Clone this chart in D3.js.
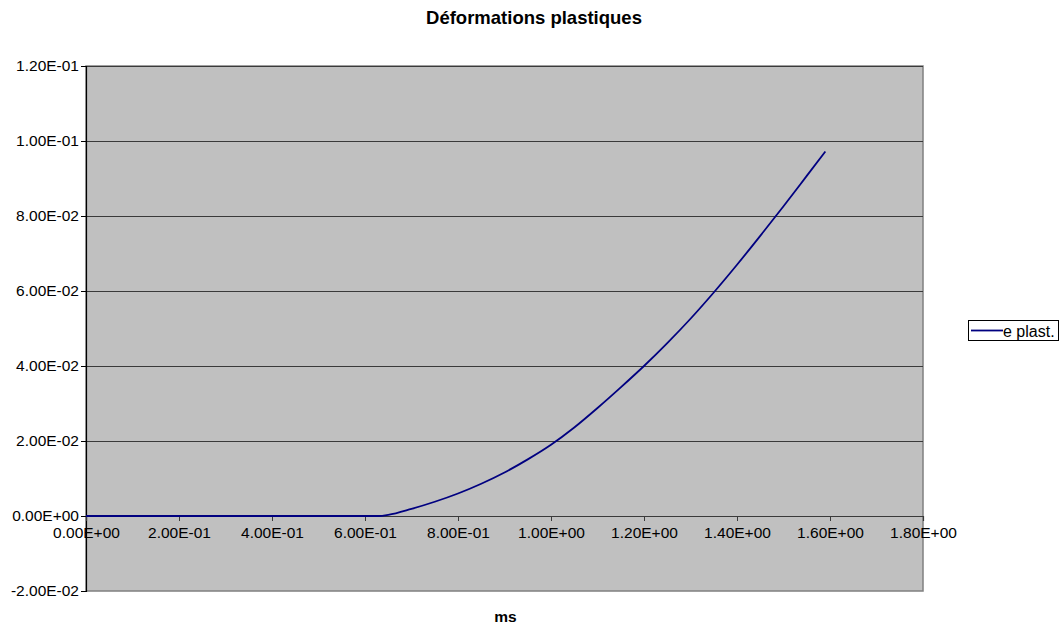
<!DOCTYPE html>
<html>
<head>
<meta charset="utf-8">
<script src="https://cdn.jsdelivr.net/npm/d3@7/dist/d3.min.js"></script>
<style>
  body { margin: 0; background: #fff; }
  svg { display: block; font-family: Arial, "Liberation Sans", sans-serif; }
</style>
</head>
<body>
<svg id="chart" width="1063" height="624"></svg>
<script>
// Time (ms) and plastic strain
const timeMs = [0, 0.1, 0.2, 0.3, 0.4, 0.5, 0.6, 0.63, 0.65, 0.70, 0.75, 0.80, 0.85, 0.90, 0.95,
                1.00, 1.05, 1.10, 1.15, 1.20, 1.25, 1.30, 1.35, 1.40, 1.45, 1.50, 1.55, 1.59];
const ePlast = [0, 0, 0, 0, 0, 0, 0, 0, 0.0003, 0.0019, 0.0038, 0.0060, 0.0086, 0.0116, 0.0151,
                0.0190, 0.0236, 0.0288, 0.0343, 0.0400, 0.0461, 0.0526, 0.0596, 0.0670, 0.0747, 0.0826, 0.0907, 0.0972];

const xTicks = [0, 0.2, 0.4, 0.6, 0.8, 1.0, 1.2, 1.4, 1.6, 1.8];
const yTicks = [-0.02, 0, 0.02, 0.04, 0.06, 0.08, 0.10, 0.12];
const seriesName = "e plast.";
const chartTitle = "Déformations plastiques";
const xTitle = "ms";

// Scientific tick format, e.g. 1.20E-01
function sci(v) {
  if (Math.abs(v) < 1e-12) return "0.00E+00";
  let e = Math.floor(Math.log10(Math.abs(v)) + 1e-9);
  let m = v / Math.pow(10, e);
  const sign = e < 0 ? "-" : "+";
  const ea = Math.abs(e);
  return m.toFixed(2) + "E" + sign + (ea < 10 ? "0" : "") + ea;
}

const svg = d3.select("#chart");
const plotL = 86, plotR = 923, plotT = 66, plotB = 591;
const tickFont = 15.5;

const x = d3.scaleLinear().domain([0, 1.8]).range([plotL, plotR]);
const y = d3.scaleLinear().domain([-0.02, 0.12]).range([plotB, plotT]);

// Plot area
svg.append("rect")
  .attr("x", plotL).attr("y", plotT)
  .attr("width", plotR - plotL).attr("height", plotB - plotT)
  .attr("fill", "#c0c0c0")
  .attr("stroke", "#808080").attr("stroke-width", 1.5);

// Horizontal gridlines
svg.append("g")
  .selectAll("line")
  .data(yTicks.filter(d => d > -0.02 && d !== 0))
  .join("line")
  .attr("x1", plotL).attr("x2", plotR)
  .attr("y1", d => y(d) + 0.5).attr("y2", d => y(d) + 0.5)
  .attr("stroke", "#3a3a3a").attr("stroke-width", 1);

// Y axis
const yAxis = d3.axisLeft(y).tickValues(yTicks).tickFormat(sci).tickSize(5).tickPadding(2);
const gy = svg.append("g").attr("transform", `translate(${plotL},0)`).call(yAxis);
gy.select(".domain").attr("stroke", "#000").attr("stroke-width", 1.2);
gy.selectAll(".tick line").attr("stroke", "#000");
gy.selectAll(".tick text").attr("font-size", tickFont).attr("fill", "#000")
  .attr("font-family", "Arial, 'Liberation Sans', sans-serif");

// X axis at y = 0
const xAxis = d3.axisBottom(x).tickValues(xTicks).tickFormat(sci).tickSize(5).tickPadding(6);
const gx = svg.append("g").attr("transform", `translate(0,${y(0)})`).call(xAxis);
gx.select(".domain").attr("stroke", "#3a3a3a").attr("stroke-width", 1.2);
gx.selectAll(".tick line").attr("stroke", "#3a3a3a");
gx.selectAll(".tick text").attr("font-size", tickFont).attr("fill", "#000")
  .attr("font-family", "Arial, 'Liberation Sans', sans-serif");

// Series line
const line = d3.line().x((d, i) => x(timeMs[i])).y(d => y(d)).curve(d3.curveMonotoneX);
svg.append("path")
  .datum(ePlast)
  .attr("d", line)
  .attr("fill", "none")
  .attr("stroke", "#000080")
  .attr("stroke-width", 1.8);

// Title
svg.append("text")
  .attr("x", 534).attr("y", 24)
  .attr("text-anchor", "middle")
  .attr("font-size", 18.5).attr("font-weight", "bold")
  .text(chartTitle);

// X axis title
svg.append("text")
  .attr("x", (plotL + plotR) / 2 + 1).attr("y", 622)
  .attr("text-anchor", "middle")
  .attr("font-size", 15.5).attr("font-weight", "bold")
  .text(xTitle);

// Legend
const lg = svg.append("g").attr("transform", "translate(968,320)");
lg.append("rect").attr("x", 0.5).attr("y", 0.5).attr("width", 90).attr("height", 20)
  .attr("fill", "#fff").attr("stroke", "#000").attr("stroke-width", 1);
lg.append("line").attr("x1", 3).attr("x2", 35).attr("y1", 10.5).attr("y2", 10.5)
  .attr("stroke", "#000080").attr("stroke-width", 1.8);
lg.append("text").attr("x", 35).attr("y", 16.5)
  .attr("font-size", 16).text(seriesName);
</script>
</body>
</html>
